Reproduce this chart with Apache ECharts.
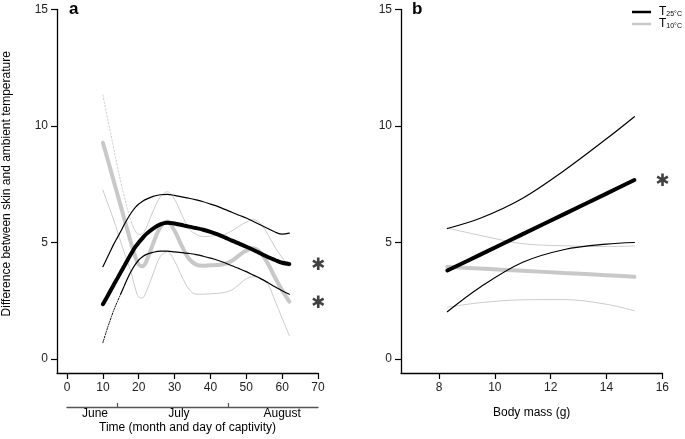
<!DOCTYPE html>
<html><head><meta charset="utf-8">
<script src="https://cdn.jsdelivr.net/npm/echarts@6/dist/echarts.min.js"></script>
<style>html,body{margin:0;padding:0;background:#fff}#c{width:685px;height:439px}</style>
</head><body><div id="c"></div>
<script>
// ---------- Panel a: day of captivity ----------
const dayA = [10,11,12,13,14,15,16,17,18,19,20,21,22,24,26,28,30,32,34,36,38,40,42,44,46,48,50,52,54,56,58,60,62];
const t25Mean = [2.35,2.62,2.9,3.18,3.45,3.73,4.0,4.28,4.55,4.8,5.0,5.18,5.35,5.6,5.78,5.85,5.82,5.75,5.68,5.62,5.55,5.46,5.35,5.22,5.08,4.95,4.82,4.68,4.53,4.38,4.25,4.13,4.08];
const t25Up   = [3.96,4.28,4.6,4.92,5.2,5.48,5.78,6.05,6.3,6.5,6.65,6.76,6.85,6.98,7.05,7.07,7.02,6.96,6.9,6.83,6.75,6.65,6.55,6.42,6.3,6.17,6.05,5.9,5.75,5.6,5.45,5.36,5.4];
const t25Low  = [0.7,1.2,1.65,2.08,2.45,2.8,3.15,3.5,3.8,4.05,4.25,4.38,4.48,4.58,4.63,4.63,4.6,4.57,4.53,4.48,4.41,4.33,4.24,4.13,4.0,3.88,3.75,3.6,3.45,3.28,3.1,2.93,2.78];
const t10Mean = [9.28,8.75,8.2,7.65,7.1,6.55,6.0,5.45,4.9,4.4,4.05,3.98,4.15,4.95,5.65,5.9,5.5,4.85,4.3,4.05,4.0,4.02,4.03,4.08,4.22,4.45,4.65,4.75,4.55,4.1,3.5,2.95,2.46];
const t10Up   = [11.33,10.55,9.8,9.05,8.3,7.6,6.95,6.35,5.85,5.5,5.35,5.38,5.6,6.35,6.95,7.18,6.85,6.2,5.6,5.35,5.25,5.28,5.3,5.35,5.5,5.7,5.88,5.98,5.8,5.35,4.8,4.35,3.95];
const t10Low  = [7.25,6.82,6.4,5.97,5.5,5.02,4.55,4.12,3.65,3.05,2.65,2.62,2.85,3.65,4.4,4.6,4.2,3.55,3.0,2.78,2.78,2.8,2.82,2.86,2.97,3.2,3.45,3.53,3.45,3.22,2.5,1.75,1.0];
const t25LowDottedUntil = 15;
const t10UpDottedUntil = 18;
const dayTicks = [0,10,20,30,40,50,60,70];
const monthNames = ['June','July','August'];
const monthLabelDay = [7.8, 31.2, 60];
const monthBreakDay = [14, 45];
const starsA = [[70, 4.08], [70, 2.46]];

// ---------- Panel b: body mass ----------
const massB = [8.3, 9.5, 11, 12.5, 14, 15];
const b25Mean = [3.8, 4.49, 5.36, 6.23, 7.1, 7.68];
const b25Up   = [5.6, 6.05, 6.9, 8.1, 9.45, 10.4];
const b25Low  = [2.03, 3.1, 4.15, 4.7, 4.93, 5.0];
const b10Mean = [3.96, 3.88, 3.79, 3.69, 3.6, 3.53];
const b10Up   = [5.62, 5.3, 4.95, 4.86, 4.83, 4.85];
const b10Low  = [2.22, 2.42, 2.54, 2.55, 2.35, 2.07];
const massTicks = [8,10,12,14,16];
const starsB = [[16, 7.68]];
const yTicks = [0,5,10,15];

const BLACK = '#000', GRAY = '#c8c8c8', LGRAY = '#cbcbcb';
const pairs = (xs, ys, lo, hi) => xs.map((x,i)=>[x,ys[i]]).filter(p=>p[0]>=lo && p[0]<=hi);

function line(name, xi, data, color, width, type, z) {
  return { type:'line', name, xAxisIndex:xi, yAxisIndex:xi, data, smooth:0.35, symbol:'none',
    lineStyle:{color, width, type: type||'solid', cap:'round'}, itemStyle:{color}, z: z||2, silent:true, animation:false };
}
function stars(xi, data) {
  return { type:'scatter', xAxisIndex:xi, yAxisIndex:xi, data, symbolSize:0, silent:true, animation:false,
    label:{show:true, position:'inside', formatter:'\u2731', fontSize:17, color:'#111', offset:[0,2], fontFamily:'DejaVu Sans'} };
}

const axisFont = {fontSize:12, color:'#222', fontFamily:'Liberation Sans'};
const axLine = {show:true, onZero:false, lineStyle:{color:'#000', width:1.3}};
const axTick = {show:true, length:6, lineStyle:{color:'#000', width:1.2}};

const chart = echarts.init(document.getElementById('c'), null, {renderer:'canvas'});
chart.setOption({
  animation:false,
  textStyle:{fontFamily:'Liberation Sans'},
  title:[
    {text:'a', left:69, top:1, padding:0, textStyle:{fontSize:17, fontWeight:'bold', color:'#000', fontFamily:'Liberation Sans'}},
    {text:'b', left:412, top:1, padding:0, textStyle:{fontSize:17, fontWeight:'bold', color:'#000', fontFamily:'Liberation Sans'}}
  ],
  legend:{
    left:632, top:6, orient:'vertical', itemWidth:19, itemHeight:2.5, itemGap:0, padding:0,
    selectedMode:false,
    data:[{name:'T25', icon:'rect', itemStyle:{color:BLACK}}, {name:'T10', icon:'rect', itemStyle:{color:GRAY}}],
    formatter: n => n==='T25' ? '{t|T}{s|25°C}' : '{t|T}{s|10°C}',
    textStyle:{padding:[0,0,0,3], rich:{
      t:{fontSize:12, lineHeight:12, color:'#000', fontFamily:'Liberation Sans'},
      s:{fontSize:7, lineHeight:12, color:'#000', verticalAlign:'bottom', padding:[5,0,0,0], fontFamily:'Liberation Sans'}
    }}
  },
  grid:[
    {left:57, right:367, top:9.5, bottom:66},
    {left:67, right:367, top:9.5, bottom:66},
    {left:401, right:22.7, top:9.5, bottom:66}
  ],
  xAxis:[
    {gridIndex:0, type:'value', min:-2.8, max:70, axisLine:axLine, axisTick:{...axTick, customValues:dayTicks},
     axisLabel:{...axisFont, margin:9, customValues:dayTicks}, splitLine:{show:false},
     name:'Time (month and day of captivity)', nameLocation:'middle', nameGap:49, nameTextStyle:{...axisFont, color:'#000'}},
    {gridIndex:1, type:'value', min:0, max:70, offset:34, axisLine:{show:true, onZero:false, lineStyle:{color:'#555', width:1.3}},
     axisTick:{show:true, inside:true, length:4, lineStyle:{color:'#555', width:1.2}, customValues:monthBreakDay},
     axisLabel:{...axisFont, color:'#000', margin:1, customValues:monthLabelDay,
       formatter: v => monthNames[monthLabelDay.indexOf(v)] || ''}, splitLine:{show:false}},
    {gridIndex:2, type:'value', min:6.64, max:16, axisLine:axLine, axisTick:{...axTick, customValues:massTicks},
     axisLabel:{...axisFont, margin:9, customValues:massTicks}, splitLine:{show:false},
     name:'Body mass (g)', nameLocation:'middle', nameGap:34, nameTextStyle:{...axisFont, color:'#000'}}
  ],
  yAxis:[
    {gridIndex:0, type:'value', min:-0.6, max:15, axisLine:axLine, axisTick:{...axTick, customValues:yTicks},
     axisLabel:{...axisFont, margin:9, customValues:yTicks}, splitLine:{show:false},
     name:'Difference between skin and ambient temperature', nameLocation:'middle', nameGap:44, nameRotate:90,
     nameTextStyle:{...axisFont, color:'#000', padding:[0,0,0,15]}},
    {gridIndex:1, type:'value', min:0, max:1, show:false},
    {gridIndex:2, type:'value', min:-0.6, max:15, axisLine:axLine, axisTick:{...axTick, customValues:yTicks},
     axisLabel:{...axisFont, margin:9, customValues:yTicks}, splitLine:{show:false}}
  ],
  series:[
    // panel a, T10 (grey)
    line('T10', 0, pairs(dayA, t10Up, t10UpDottedUntil, 99), LGRAY, 1, 'solid', 2),
    line('T10', 0, pairs(dayA, t10Up, 0, t10UpDottedUntil), LGRAY, 1, [1.5, 2], 2),
    line('T10', 0, pairs(dayA, t10Low, 0, 99), LGRAY, 1, 'solid', 2),
    line('T10', 0, pairs(dayA, t10Mean, 0, 99), GRAY, 4, 'solid', 3),
    // panel a, T25 (black)
    line('T25', 0, pairs(dayA, t25Up, 0, 99), BLACK, 1.2, 'solid', 4),
    line('T25', 0, pairs(dayA, t25Low, t25LowDottedUntil, 99), BLACK, 1.2, 'solid', 4),
    line('T25', 0, pairs(dayA, t25Low, 0, t25LowDottedUntil), BLACK, 1, [1.2, 1.5], 4),
    line('T25', 0, pairs(dayA, t25Mean, 0, 99), BLACK, 4, 'solid', 5),
    stars(0, starsA),
    // panel b
    line('T10', 2, pairs(massB, b10Up, 0, 99), LGRAY, 1, 'solid', 2),
    line('T10', 2, pairs(massB, b10Low, 0, 99), LGRAY, 1, 'solid', 2),
    line('T10', 2, pairs(massB, b10Mean, 0, 99), GRAY, 4, 'solid', 3),
    line('T25', 2, pairs(massB, b25Up, 0, 99), BLACK, 1.2, 'solid', 4),
    line('T25', 2, pairs(massB, b25Low, 0, 99), BLACK, 1.2, 'solid', 4),
    line('T25', 2, pairs(massB, b25Mean, 0, 99), BLACK, 4, 'solid', 5),
    stars(2, starsB)
  ]
});
</script></body></html>
